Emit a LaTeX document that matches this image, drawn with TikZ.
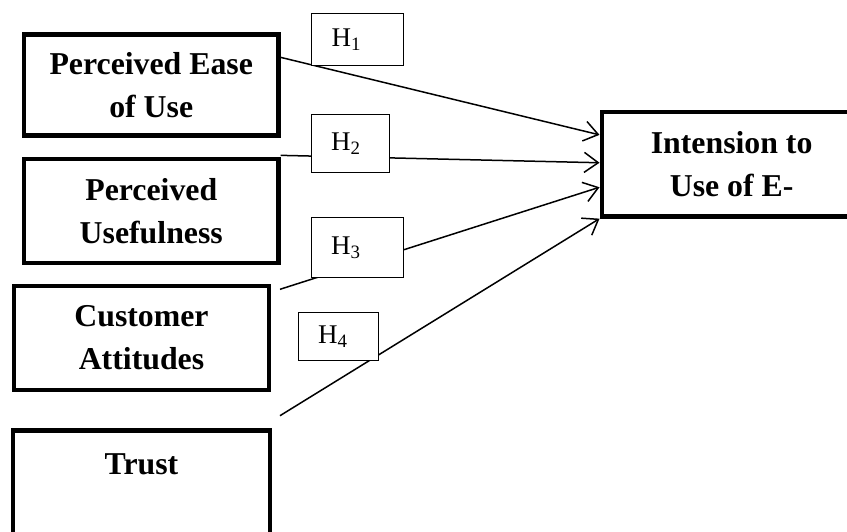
\documentclass[tikz,border=0pt]{standalone}
\usepackage{fontspec}
\setmainfont{Liberation Serif}
\usetikzlibrary{arrows.meta,calc}
\tikzset{
  var/.style={draw, line width=4.3pt, inner sep=0pt, align=center,
    font=\fontsize{31.8}{43}\selectfont\bfseries},
  hyp/.style={draw, fill=white, line width=1pt, inner sep=0pt, inner xsep=20pt,
    align=left, font=\fontsize{27}{30}\selectfont},
  link/.style={line width=1.5pt, -{Straight Barb[length=14pt,width=20pt,line width=1.5pt]}}
}
\begin{document}
\begin{tikzpicture}[x=1pt,y=-1pt]
\useasboundingbox (0,0) rectangle (847,532);
\clip (0,0) rectangle (847,532);
\fill[white] (0,0) rectangle (847,532);
% variable boxes
\node[var, minimum width=254.5pt, minimum height=101pt] (peou) at (151.25,85) {Perceived Ease\\of Use};
\node[var, minimum width=254.5pt, minimum height=104pt] (pu) at (151.25,211) {Perceived\\Usefulness};
\node[var, minimum width=255pt, minimum height=104.5pt] (ca) at (141.5,338) {Customer\\Attitudes};
\node[var, minimum width=257pt, text height=44pt, text depth=100pt, anchor=north] (trust) at (141.5,428.35) {Trust};
\node[var, minimum width=260pt, minimum height=104.5pt, anchor=west] (itu) at (599.5,164.25) {Intension to\\Use of E-};
% free line starts
\coordinate (s3) at (280,289.3);
\coordinate (s4) at (280,415.7);
% connectors
\draw[link] ($(peou.north east)+(0,25)$) -- ($(itu.north west)+(0,25)$);
\draw[link] ($(pu.north east)+(0,-1.5)$) -- ($(itu.west)+(0,-1.5)$);
\draw[link] (s3) -- ($(itu.west)+(0,23)$);
\draw[link] (s4) -- (itu.south west);
% hypothesis boxes
\node[hyp, minimum width=92pt, minimum height=52pt, text width=52pt, anchor=north west] (h1) at (311,13.3) {H\textsubscript{1}};
\node[hyp, minimum width=78.7pt, minimum height=58pt, text width=38.7pt, anchor=north west] (h2) at (310.7,114) {H\textsubscript{2}};
\node[hyp, minimum width=92.7pt, minimum height=60.7pt, text width=52.7pt, anchor=north west] (h3) at (310.7,216.7) {H\textsubscript{3}};
\node[hyp, minimum width=80pt, minimum height=47.7pt, text width=40pt, anchor=north west] (h4) at (297.7,312.3) {H\textsubscript{4}};
\end{tikzpicture}
\end{document}
